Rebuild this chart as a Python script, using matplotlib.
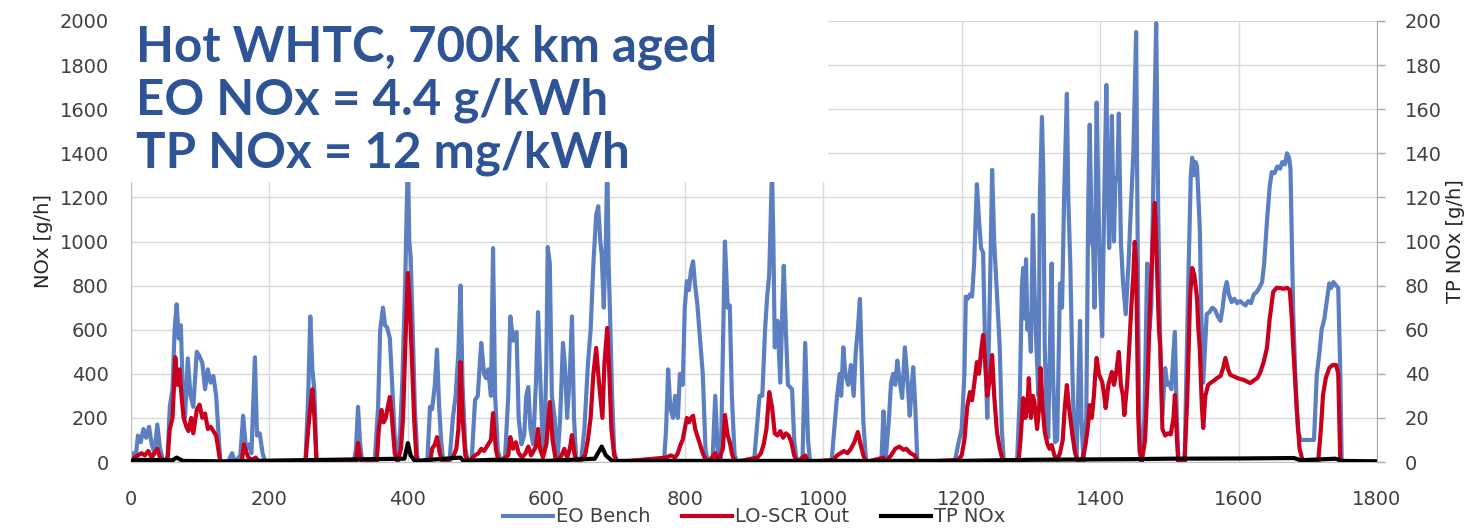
import matplotlib
matplotlib.use("Agg")
import matplotlib.pyplot as plt
from matplotlib.patches import Rectangle

# ---------------- data ----------------
eo_t = [0, 3, 7, 10, 14, 18, 22, 26, 30, 34, 38, 42, 46, 50, 53, 56, 60, 63, 66, 69, 72, 75, 78, 82, 86, 90, 95, 99, 103, 107, 111, 115, 119, 123, 126, 129,
        140, 146, 150, 158, 162, 166, 170, 174, 179, 182, 186, 190, 194, 252, 256, 259, 262, 265, 268, 322, 325, 328, 331, 334,
        352, 357, 360, 364, 367, 370, 374, 378, 382, 385, 389, 392, 396, 400, 402, 404, 407, 410, 414,
        428, 432, 435, 439, 442, 445, 448, 451, 460, 465, 469, 473, 476, 479, 483, 487, 492, 497, 501, 504, 506, 510, 513, 516, 520, 523, 526, 530, 535,
        540, 545, 548, 552, 555, 557, 560, 564, 568, 571, 574, 577, 581, 585, 588, 591, 594, 597, 600, 602, 605, 608, 612, 616, 620, 624, 627, 630, 634, 637, 640, 643, 650,
        655, 660, 664, 668, 672, 675, 678, 680, 683, 686, 688, 690, 692, 695, 698, 702,
        770, 773, 776, 779, 783, 786, 790, 793, 797, 800, 803, 806, 809, 812, 815, 818, 821, 823, 826, 830, 834, 840, 844, 848, 852, 855, 858, 862, 865, 868, 872, 876,
        900, 904, 908, 912, 916, 919, 922, 926, 928, 930, 934, 938, 941, 943, 946, 949, 952, 955, 958, 962, 970, 974, 978, 981,
        1012, 1016, 1020, 1024, 1026, 1029, 1032, 1036, 1040, 1044, 1047, 1050, 1053, 1056, 1058, 1062,
        1084, 1087, 1090, 1095, 1098, 1101, 1104, 1107, 1110, 1114, 1118, 1121, 1125, 1128, 1130, 1133, 1136,
        1190, 1195, 1200, 1204, 1206, 1209, 1212, 1215, 1218, 1222, 1225, 1228, 1231, 1234, 1237, 1241, 1244, 1247, 1251, 1255, 1258, 1261,
        1280, 1284, 1287, 1289, 1291, 1293, 1295, 1297, 1300, 1303, 1305, 1308, 1311, 1313, 1316, 1318, 1320, 1323, 1325, 1328, 1330, 1332, 1335, 1338,
        1342, 1345, 1348, 1352, 1354, 1357, 1360, 1363, 1366, 1369, 1371, 1373, 1376, 1380, 1383, 1385, 1388, 1390, 1392, 1395, 1398, 1400, 1403, 1406,
        1409, 1411, 1413, 1415, 1417, 1420, 1422, 1425, 1427, 1430, 1433, 1437, 1441, 1444, 1448, 1452, 1455, 1457, 1460, 1464, 1468, 1471, 1474, 1478,
        1481, 1484, 1487, 1490, 1494, 1497, 1500, 1503, 1506, 1508, 1510, 1513, 1522, 1525, 1528, 1531, 1533, 1536, 1538, 1540, 1542, 1544, 1546, 1549,
        1552, 1554, 1558, 1562, 1566, 1570, 1574, 1577, 1580, 1583, 1586, 1590, 1594, 1598, 1602, 1606, 1610, 1614, 1618, 1622, 1626, 1630, 1634, 1637,
        1641, 1645, 1648, 1652, 1656, 1660, 1663, 1667, 1670, 1673, 1675, 1679, 1683, 1686, 1690, 1695, 1700, 1705, 1709, 1713, 1717, 1720, 1724, 1728,
        1731, 1734, 1737, 1741, 1744, 1747, 1749, 1800]
eo_v = [20, 40, 30, 120, 90, 150, 110, 160, 80, 40, 170, 60, 10, 0, 30, 250, 330, 600, 715, 560, 620, 300, 200, 470, 300, 250, 500, 480, 450, 330, 420, 360, 390, 300, 150, 0,
        0, 40, 0, 30, 210, 60, 80, 40, 475, 120, 130, 40, 0, 0, 300, 660, 420, 320, 0, 0, 60, 250, 80, 0,
        0, 250, 600, 700, 620, 610, 560, 300, 50, 0, 150, 370, 800, 1400, 1000, 930, 600, 250, 0,
        0, 250, 240, 350, 510, 260, 100, 0, 0, 200, 300, 500, 800, 350, 60, 0, 0, 280, 300, 450, 540, 400, 380, 420, 300, 970, 300, 50, 0,
        0, 300, 660, 550, 580, 590, 200, 80, 120, 300, 340, 150, 80, 360, 680, 400, 150, 60, 450, 975, 900, 300, 200, 0, 200, 540, 430, 200, 400, 660, 200, 20, 0,
        150, 440, 600, 900, 1120, 1160, 1000, 940, 700, 1000, 1380, 900, 670, 300, 50, 0,
        0, 150, 420, 250, 200, 300, 200, 400, 350, 700, 820, 780, 870, 910, 800, 720, 600, 520, 400, 50, 0, 0, 300, 20, 0, 500, 1000, 700, 710, 300, 30, 0,
        0, 150, 300, 300, 600, 750, 850, 1330, 1000, 520, 640, 360, 700, 890, 600, 350, 340, 330, 100, 0, 0, 540, 100, 0,
        0, 150, 300, 400, 300, 520, 400, 350, 440, 300, 500, 600, 740, 400, 180, 0,
        0, 230, 0, 200, 360, 400, 350, 460, 380, 290, 520, 400, 210, 350, 430, 250, 0,
        0, 80, 150, 400, 750, 740, 760, 750, 900, 1260, 1100, 970, 950, 500, 200, 800, 1325, 1000, 760, 520, 150, 0,
        0, 300, 800, 880, 650, 920, 600, 670, 500, 1120, 800, 520, 300, 1200, 1565, 1300, 520, 200, 110, 600, 900, 400, 90, 100,
        810, 700, 1200, 1670, 1200, 890, 400, 60, 20, 400, 640, 200, 0, 200, 1200, 1530, 1000, 970, 700, 1630, 1100, 820, 570, 1200,
        1710, 1300, 970, 1200, 1570, 1000, 1270, 1300, 1580, 1000, 820, 670, 900, 1120, 1400, 1950, 670, 100, 0, 200, 900, 600, 700, 1500,
        1990, 1120, 500, 213, 426, 350, 360, 330, 500, 590, 300, 0, 0, 450, 900, 1300, 1380, 1300, 1360, 1340, 1200, 1060, 700, 360,
        550, 670, 680, 700, 690, 660, 640, 700, 780, 816, 760, 725, 740, 720, 730, 720, 710, 730, 720, 760, 770, 790, 816, 900,
        1090, 1250, 1315, 1310, 1340, 1330, 1360, 1350, 1400, 1380, 1330, 670, 300, 136, 100, 100, 100, 100, 100, 395, 500, 600, 650, 740,
        810, 790, 816, 800, 790, 400, 0, 0]

lo_t = [0, 5, 10, 15, 20, 25, 30, 38, 42, 50, 53, 56, 60, 64, 67, 70, 73, 76, 80, 83, 87, 90, 95, 99, 103, 107, 111, 115, 119, 123, 126, 129,
        160, 163, 167, 170, 174, 180, 185, 252, 256, 259, 262, 265, 268, 325, 328, 331, 334,
        355, 358, 362, 365, 368, 371, 374, 377, 381, 385, 390, 393, 396, 400, 403, 406, 409, 412, 415,
        432, 435, 439, 442, 446, 450, 465, 470, 473, 476, 479, 483, 487, 497, 502, 506, 510, 516, 520, 523, 527, 531,
        545, 548, 552, 556, 560, 565, 570, 574, 578, 585, 588, 591, 595, 600, 605, 609, 613, 616, 622, 626, 630, 634, 637, 641, 645,
        656, 660, 664, 668, 672, 675, 678, 681, 684, 688, 691, 694, 698, 702,
        773, 780, 786, 790, 794, 797, 800, 803, 806, 809, 812, 815, 818, 822, 826, 830, 834, 844, 848, 855, 858, 862, 865, 868, 872,
        905, 910, 914, 918, 922, 926, 930, 934, 938, 942, 946, 950, 954, 958, 962, 974, 978,
        1015, 1020, 1025, 1030, 1035, 1040, 1045, 1050, 1054, 1058, 1062, 1087, 1090, 1098, 1104, 1110, 1116, 1120, 1126, 1132, 1136,
        1195, 1200, 1204, 1208, 1212, 1215, 1218, 1222, 1225, 1228, 1231, 1234, 1237, 1241, 1244, 1247, 1251, 1255, 1260,
        1282, 1285, 1289, 1292, 1295, 1297, 1300, 1303, 1305, 1309, 1312, 1314, 1317, 1320, 1324, 1327, 1330, 1334, 1338,
        1342, 1346, 1349, 1352, 1355, 1360, 1364, 1368, 1375, 1379, 1382, 1385, 1388, 1391, 1393, 1395, 1398, 1403, 1406, 1408,
        1412, 1417, 1420, 1423, 1427, 1430, 1433, 1435, 1439, 1442, 1445, 1448, 1450, 1452, 1455, 1457, 1460, 1465, 1469, 1472,
        1476, 1479, 1482, 1485, 1487, 1490, 1494, 1498, 1502, 1506, 1508, 1511, 1513, 1522, 1526, 1530, 1533, 1536, 1540, 1542,
        1544, 1547, 1549, 1552, 1556, 1560, 1565, 1569, 1574, 1578, 1581, 1585, 1588, 1592, 1598, 1604, 1608, 1612, 1617, 1622,
        1627, 1631, 1636, 1641, 1645, 1650, 1655, 1660, 1665, 1670, 1674, 1677, 1679, 1684, 1688, 1693, 1715, 1719, 1722, 1726,
        1731, 1736, 1741, 1744, 1747, 1800]
lo_v = [10, 20, 30, 40, 30, 50, 20, 60, 20, 0, 20, 150, 200, 475, 350, 420, 300, 200, 160, 140, 200, 130, 236, 260, 200, 220, 150, 160, 140, 120, 60, 0,
        0, 80, 40, 20, 10, 20, 0, 0, 150, 250, 330, 200, 0, 0, 86, 20, 0,
        0, 150, 236, 180, 200, 250, 295, 200, 40, 0, 60, 200, 500, 857, 700, 450, 200, 30, 0,
        0, 60, 80, 113, 40, 0, 20, 60, 150, 453, 200, 30, 0, 30, 40, 60, 50, 80, 100, 222, 60, 0,
        30, 113, 60, 90, 40, 20, 40, 70, 30, 70, 150, 60, 20, 80, 272, 100, 20, 0, 30, 60, 20, 60, 122, 30, 0,
        30, 100, 200, 400, 517, 400, 300, 200, 450, 608, 400, 150, 30, 0,
        20, 30, 20, 40, 80, 100, 150, 200, 180, 200, 210, 150, 120, 80, 40, 10, 0, 40, 0, 60, 213, 120, 90, 40, 0,
        20, 40, 80, 150, 317, 250, 130, 120, 140, 110, 130, 120, 90, 30, 0, 30, 0,
        10, 30, 40, 50, 40, 60, 90, 136, 80, 30, 0, 20, 0, 30, 60, 70, 55, 60, 40, 30, 0,
        10, 30, 100, 250, 317, 280, 350, 453, 400, 500, 576, 450, 300, 380, 485, 300, 136, 60, 0,
        0, 100, 290, 200, 250, 380, 200, 300, 272, 150, 250, 426, 250, 136, 80, 60, 77, 30, 10,
        40, 100, 250, 349, 250, 122, 40, 0, 20, 80, 150, 258, 200, 300, 400, 472, 400, 363, 300, 245,
        350, 408, 350, 400, 499, 350, 300, 213, 350, 517, 700, 850, 998, 900, 213, 50, 0, 100, 400, 700,
        1000, 1175, 900, 600, 517, 150, 120, 130, 125, 200, 304, 100, 0, 0, 300, 750, 880, 850, 744, 600,
        517, 250, 154, 300, 349, 360, 370, 381, 390, 430, 472, 420, 395, 390, 381, 375, 372, 365, 358, 370,
        380, 404, 450, 517, 650, 771, 790, 789, 785, 790, 780, 650, 517, 250, 63, 0, 0, 150, 304, 380,
        426, 440, 440, 400, 0, 0]

tp_t = [0, 5, 60, 66, 75, 130, 395, 400, 404, 410, 476, 480, 523, 600, 670, 680, 686, 695, 800, 1200, 1300, 1450, 1500, 1600, 1680, 1690, 1740, 1750, 1800]
tp_v = [0.5, 1, 0.8, 2, 0.5, 0.3, 1.5, 8.6, 3, 0.5, 2, 0.5, 1, 0.5, 1.5, 7, 3, 0.5, 0.5, 0.5, 1, 1.3, 1.5, 1.6, 1.8, 0.8, 1.5, 0.5, 0.3]

x_ticks = [0, 200, 400, 600, 800, 1000, 1200, 1400, 1600, 1800]
left_ticks = [0, 200, 400, 600, 800, 1000, 1200, 1400, 1600, 1800, 2000]
right_ticks = [0, 20, 40, 60, 80, 100, 120, 140, 160, 180, 200]
series_names = ["EO Bench", "LO-SCR Out", "TP NOx"]
title_lines = ["Hot WHTC, 700k km aged", "EO NOx = 4.4 g/kWh", "TP NOx = 12 mg/kWh"]

# ---------------- figure ----------------
W, H = 1475, 531
fig = plt.figure(figsize=(W / 100, H / 100), dpi=100)
fig.patch.set_facecolor("white")

L, R, T, B = 131, 1377, 21, 462
ax = fig.add_axes([L / W, 1 - B / H, (R - L) / W, (B - T) / H])
ax2 = ax.twinx()

blue = "#5B7FC1"
red = "#C8001E"
grid_c = "#D9D9D9"
txt_c = "#404040"

l1, = ax.plot(eo_t, eo_v, color=blue, lw=3.0, label=series_names[0], solid_joinstyle="round")
l2, = ax.plot(lo_t, lo_v, color=red, lw=3.0, label=series_names[1], solid_joinstyle="round")
l3, = ax2.plot(tp_t, tp_v, color="black", lw=3.0, label=series_names[2])

ax.set_xlim(0, 1800)
ax.set_ylim(0, 2000)
ax2.set_ylim(0, 200)
ax.set_xticks(x_ticks)
ax.set_yticks(left_ticks)
ax2.set_yticks(right_ticks)

ax.grid(True, color=grid_c, lw=1.0)
ax.set_axisbelow(True)

for a in (ax, ax2):
    for s in a.spines.values():
        s.set_color("#BFBFBF")
    a.spines["top"].set_visible(False)
ax2.spines["left"].set_visible(False)
ax2.spines["bottom"].set_visible(False)
ax.spines["right"].set_visible(False)
ax2.spines["right"].set_color("#A6A6A6")

ax.tick_params(axis="x", length=0, pad=20, labelsize=14, labelcolor=txt_c)
ax.tick_params(axis="y", length=0, pad=16, labelsize=14, labelcolor=txt_c)
ax2.tick_params(axis="y", length=6, width=1, color="#A6A6A6", pad=14, labelsize=14, labelcolor=txt_c)

ax.set_ylabel("NOx [g/h]", fontsize=14, color="#262626", labelpad=5)
ax2.set_ylabel("TP NOx [g/h]", fontsize=14, color="#262626", labelpad=3)

leg = fig.legend(handles=[l1, l2, l3], labels=series_names, loc="center",
                 bbox_to_anchor=((L + R) / 2 / W, 1 - 517 / H), ncol=3, frameon=False,
                 fontsize=14, handlelength=2.6, handletextpad=0.15, columnspacing=1.6,
                 labelcolor=txt_c)

# ---------------- title box ----------------
rect = Rectangle((128 / W, 1 - 182 / H), (828 - 128) / W, 182 / H, transform=fig.transFigure,
                 facecolor="white", edgecolor="none", zorder=10)
fig.add_artist(rect)
title_c = "#2E5496"
ys = [43, 96, 149]
for line, yc in zip(title_lines, ys):
    fig.text(136 / W, 1 - yc / H, line, fontsize=35.5, fontweight="bold", family=["Lato", "DejaVu Sans"],
             color=title_c, ha="left", va="center_baseline", zorder=11)

fig.savefig("out.png", dpi=100, facecolor="white")
